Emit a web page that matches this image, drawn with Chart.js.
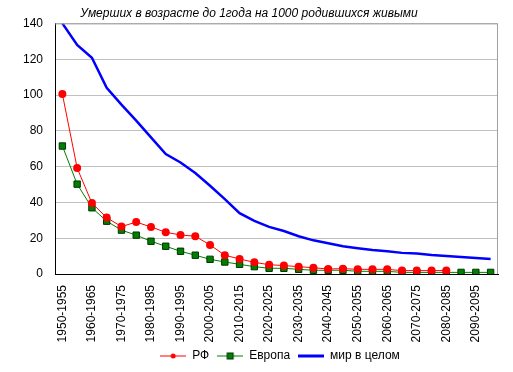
<!DOCTYPE html>
<html>
<head>
<meta charset="utf-8">
<script src="https://cdn.jsdelivr.net/npm/chart.js@4"></script>
<style>
  html, body { margin: 0; padding: 0; background: #fff; }
  #wrap { width: 513px; height: 372px; }
</style>
</head>
<body>
<div id="wrap"><canvas id="imrChart" width="513" height="372"></canvas></div>
<script>
// периоды по 5 лет
const periods = [];
for (let y = 1950; y < 2100; y += 5) periods.push(y + '-' + (y + 5));

// значения
const rf = [100.5, 59.2, 39.6, 31.5, 26.5, 29, 26.3, 23.3, 21.8, 21.1, 16.2, 10.5,
  8.4, 6.5, 5.2, 4.7, 4.1, 3.5, 2.8, 3.0, 2.6, 2.6, 2.6, 1.9, 1.9, 1.9, 1.9,
  null, null, null];
const europe = [71.5, 50.2, 37, 29.5, 24.5, 21.7, 18.3, 15.5, 12.7, 10.5, 8.2, 6.7,
  5.4, 4.1, 3.2, 3.2, 2.6, 2.1, 2.1, 2.1, 1.5, 1.5, 1.5, 0.9, 0.9, 0.9, 0.9,
  0.9, 0.9, 0.9];
const world = [140, 128, 120.8, 104, 94.6, 85.7, 76.3, 67, 62.3, 56.4, 49.3, 41.8,
  34, 29.7, 26.3, 24, 21.1, 18.8, 17.2, 15.5, 14.4, 13.4, 12.7, 11.8, 11.4,
  10.6, 10.1, 9.5, 9.0, 8.4];

const yTicks = [0, 20, 40, 60, 80, 100, 120, 140];

// маленькие картинки для легенды: линия с маркером
function legendIcon(color, marker) {
  const c = document.createElement('canvas');
  c.width = 26; c.height = 10;
  const g = c.getContext('2d');
  g.strokeStyle = color;
  g.lineWidth = marker ? 1 : 3;
  g.beginPath(); g.moveTo(0, 5); g.lineTo(26, 5); g.stroke();
  if (marker === 'circle') {
    g.fillStyle = color;
    g.beginPath(); g.arc(13, 5, 2.5, 0, Math.PI * 2); g.fill();
  } else if (marker === 'rect') {
    g.fillStyle = color;
    g.fillRect(10, 2, 6, 6);
    g.strokeStyle = '#003300';
    g.strokeRect(10, 2, 6, 6);
  }
  return c;
}
const icons = [legendIcon('#ff0000', 'circle'), legendIcon('#008000', 'rect'), legendIcon('#0000ff', null)];

const frame = {
  id: 'frame',
  afterLayout(chart) {
    // легенда в оригинале чуть правее центра
    chart.legend.left += 31;
    chart.legend.right += 31;
  },
  afterDraw(chart) {
    const a = chart.chartArea, g = chart.ctx;
    g.save();
    g.strokeStyle = '#a0a0a0';
    g.lineWidth = 1;
    g.beginPath();
    g.moveTo(a.left, a.top + 0.5); g.lineTo(a.right - 0.5, a.top + 0.5); g.lineTo(a.right - 0.5, a.bottom);
    g.stroke();
    g.restore();
  }
};

Chart.defaults.font.family = 'Arial, "Liberation Sans", sans-serif';
Chart.defaults.font.size = 12;
Chart.defaults.color = '#000';

new Chart(document.getElementById('imrChart'), {
  type: 'line',
  data: {
    labels: periods,
    datasets: [
      {
        label: 'РФ', data: rf,
        borderColor: '#ff0000', backgroundColor: '#ff0000', borderWidth: 1,
        pointStyle: 'circle', pointRadius: 4, pointBorderWidth: 0, pointHoverRadius: 4
      },
      {
        label: 'Европа', data: europe,
        borderColor: '#008000', backgroundColor: '#008000', borderWidth: 1,
        pointStyle: 'rect', pointRadius: 4.5, pointBorderColor: '#003300', pointBorderWidth: 1
      },
      {
        label: 'мир в целом', data: world,
        borderColor: '#0000ff', borderWidth: 2.5, pointRadius: 0
      }
    ]
  },
  options: {
    responsive: false,
    animation: false,
    layout: { padding: { left: 0, right: 15, top: 0, bottom: 0 } },
    plugins: {
      title: {
        display: true,
        text: 'Умерших в возрасте до 1года на 1000 родившихся живыми',
        font: { style: 'italic', weight: 'normal', size: 12 },
        color: '#000',
        padding: { top: 6, bottom: 3 }
      },
      legend: {
        position: 'bottom',
        labels: {
          usePointStyle: true,
          pointStyleWidth: 26,
          boxHeight: 10,
          padding: 8,
          generateLabels(chart) {
            return chart.data.datasets.map((ds, i) => ({
              text: ds.label, pointStyle: icons[i], datasetIndex: i,
              fillStyle: ds.borderColor, strokeStyle: ds.borderColor, lineWidth: 0, hidden: false
            }));
          }
        }
      },
      tooltip: { enabled: false }
    },
    scales: {
      x: {
        offset: true,
        grid: { display: false, drawTicks: true, tickLength: 4 },
        border: { color: '#000', width: 1 },
        ticks: {
          autoSkip: false, maxRotation: 90, minRotation: 90, padding: 7,
          callback(v, i) { return i % 2 === 0 ? periods[i] : ''; }
        },
        afterFit(scale) { scale.height = 68; }
      },
      y: {
        min: 0, max: 140,
        afterBuildTicks(axis) { axis.ticks = yTicks.map(v => ({ value: v })); },
        grid: { color: '#c0c0c0', drawTicks: false },
        border: { color: '#000', width: 1 },
        ticks: { padding: 12 },
        afterFit(scale) { scale.width = 55; }
      }
    }
  },
  plugins: [frame]
});
</script>
</body>
</html>
